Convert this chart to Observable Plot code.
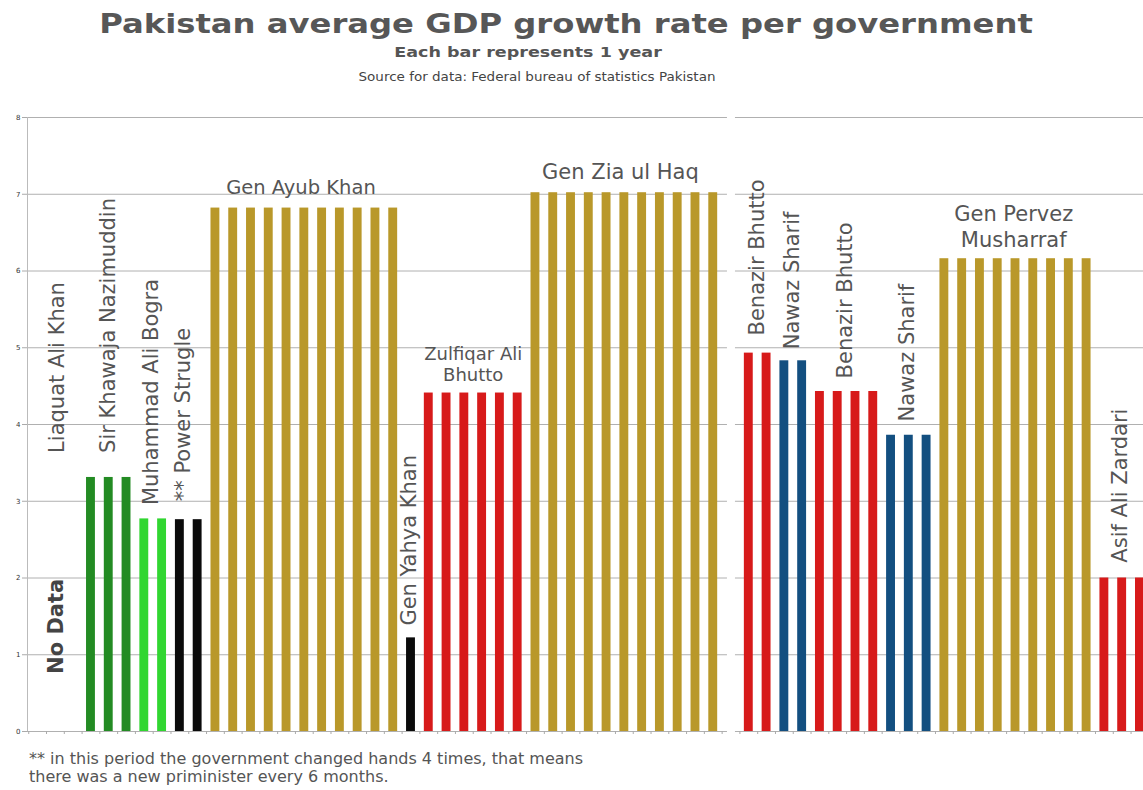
<!DOCTYPE html>
<html>
<head>
<meta charset="utf-8">
<script src="https://cdn.jsdelivr.net/npm/d3@7"></script>
<script src="https://cdn.jsdelivr.net/npm/@observablehq/plot@0.6"></script>
<style>
  html, body { margin: 0; padding: 0; background: #fff; }
  body { position: relative; width: 1143px; height: 790px; overflow: hidden; font-family: "DejaVu Sans", sans-serif; }
  .h { position: absolute; white-space: nowrap; line-height: 1; }
  #title { left: 566px; top: 11px; font-size: 26px; font-weight: bold; color: #575757; transform: translateX(-50%) scaleX(1.24); }
  #subtitle { left: 528px; top: 46px; font-size: 13.5px; font-weight: bold; color: #555; transform: translateX(-50%) scaleX(1.3); }
  #source { left: 537px; top: 71px; font-size: 12.5px; color: #444; transform: translateX(-50%) scaleX(1.08); }
  #chart { position: absolute; left: 0; top: 100px; }
  #note { position: absolute; left: 29px; top: 750px; font-size: 16px; line-height: 18px; color: #555; white-space: nowrap; }
</style>
</head>
<body>
<div class="h" id="title">Pakistan average GDP growth rate per government</div>
<div class="h" id="subtitle">Each bar represents 1 year</div>
<div class="h" id="source">Source for data: Federal bureau of statistics Pakistan</div>
<div id="chart"></div>
<div id="note">** in this period the government changed hands 4 times, that means<br>there was a new priminister every 6 months.</div>
<script>
// ---- data (one entry per government period, in order) ----
const governments = ["Liaquat Ali Khan", "Sir Khawaja Nazimuddin", "Muhammad Ali Bogra", "** Power Strugle",
  "Gen Ayub Khan", "Gen Yahya Khan", "Zulfiqar Ali Bhutto", "Gen Zia ul Haq", "",
  "Benazir Bhutto", "Nawaz Sharif", "Benazir Bhutto", "Nawaz Sharif", "Gen Pervez Musharraf", "Asif Ali Zardari"];
const yearsInOffice = [3, 3, 2, 2, 11, 1, 6, 11, 1, 2, 2, 4, 3, 9, 3];
const avgGrowth = [null, 3.31, 2.77, 2.76, 6.82, 1.22, 4.41, 7.02, null, 4.93, 4.83, 4.43, 3.86, 6.16, 2.0];
const regime = ["none", "Nazimuddin", "Bogra", "Unstable", "Military", "Unstable", "PPP", "Military", "none",
  "PPP", "PML-N", "PPP", "PML-N", "Military", "PPP"];
const yTicks = [0, 1, 2, 3, 4, 5, 6, 7, 8];

// one bar per year
const firstSlot = -3;
const rows = [];
let gapSlot = null;
{
  let s = firstSlot;
  governments.forEach((g, i) => {
    for (let k = 0; k < yearsInOffice[i]; k++) {
      if (avgGrowth[i] != null) rows.push({slot: s, value: avgGrowth[i], regime: regime[i], gov: g});
      else if (g === "") gapSlot = s;
      s++;
    }
  });
}
const lastSlot = firstSlot + d3.sum(yearsInOffice) - 1;
const xDomain = [firstSlot - 0.57, lastSlot + 0.2];

// grid lines (broken at the gap between the two halves)
const grid = yTicks.flatMap(v => [
  {v, x1: xDomain[0], x2: gapSlot - 0.2},
  {v, x1: gapSlot + 0.25, x2: xDomain[1]}
]);
const boundaries = d3.range(firstSlot - 0.5, lastSlot + 1, 1);

// annotations
const rotatedLabels = [
  {text: "Liaquat Ali Khan", slot: -1.9, value: 3.63},
  {text: "Sir Khawaja Nazimuddin", slot: 0.96, value: 3.63},
  {text: "Muhammad Ali Bogra", slot: 3.39, value: 2.95},
  {text: "** Power Strugle", slot: 5.2, value: 3.0},
  {text: "Gen Yahya Khan", slot: 17.9, value: 1.38},
  {text: "Benazir Bhutto", slot: 37.47, value: 5.16},
  {text: "Nawaz Sharif", slot: 39.44, value: 4.98},
  {text: "Benazir Bhutto", slot: 42.43, value: 4.6},
  {text: "Nawaz Sharif", slot: 45.9, value: 4.04},
  {text: "Asif Ali Zardari", slot: 57.9, value: 2.2}
];
const noDataLabel = [{text: "No Data", slot: -1.95, value: 0.75}];
const ayubLabel = [{text: "Gen Ayub Khan", slot: 11.81, value: 7.0}];
const ziaLabel = [{text: "Gen Zia ul Haq", slot: 29.78, value: 7.2}];
const zabLabel = [{text: "Zulfiqar Ali\nBhutto", slot: 21.5, value: 4.57}];
const pmLabel = [{text: "Gen Pervez\nMusharraf", slot: 51.9, value: 6.31}];

const labelColor = "#555";
const chart = Plot.plot({
  width: 1143,
  height: 643,
  marginLeft: 27,
  marginRight: 0,
  marginTop: 17,
  marginBottom: 12,
  style: {fontFamily: "DejaVu Sans, sans-serif", background: "transparent", overflow: "hidden"},
  x: {type: "linear", domain: xDomain, axis: null},
  y: {domain: [0, 8], axis: null},
  color: {
    domain: ["Nazimuddin", "Bogra", "Unstable", "Military", "PPP", "PML-N"],
    range: ["#238b23", "#30d630", "#0b0b0b", "#b9982a", "#d71a1a", "#134f80"]
  },
  marks: [
    Plot.ruleY(grid, {y: "v", x1: "x1", x2: "x2", stroke: "#b0b0b0", strokeWidth: 1}),
    Plot.axisY({ticks: yTicks, anchor: "left", tickSize: 5, tickPadding: 2, fontSize: 7, stroke: "#aaa", color: "#333", label: null}),
    Plot.ruleX([xDomain[0]], {y1: 0, y2: 8, stroke: "#bbb"}),
    Plot.axisX({ticks: boundaries, anchor: "bottom", tickSize: 3, tickFormat: () => "", stroke: "#aaa", label: null}),
    Plot.rectY(rows, {x1: d => d.slot - 0.25, x2: d => d.slot + 0.25, y: "value", fill: "regime"}),
    Plot.text(rotatedLabels, {x: "slot", y: "value", text: "text", rotate: -90, textAnchor: "start", fontSize: 21, fill: labelColor}),
    Plot.text(noDataLabel, {x: "slot", y: "value", text: "text", rotate: -90, textAnchor: "start", fontSize: 21, fontWeight: "bold", fill: "#444"}),
    Plot.text(ayubLabel, {x: "slot", y: "value", text: "text", lineAnchor: "bottom", fontSize: 19.5, fill: labelColor}),
    Plot.text(ziaLabel, {x: "slot", y: "value", text: "text", lineAnchor: "bottom", fontSize: 21, fill: labelColor}),
    Plot.text(zabLabel, {x: "slot", y: "value", text: "text", lineAnchor: "bottom", fontSize: 18, lineHeight: 1.17, fill: labelColor}),
    Plot.text(pmLabel, {x: "slot", y: "value", text: "text", lineAnchor: "bottom", fontSize: 21, lineHeight: 1.24, fill: labelColor})
  ]
});
document.getElementById("chart").appendChild(chart);
</script>
</body>
</html>
